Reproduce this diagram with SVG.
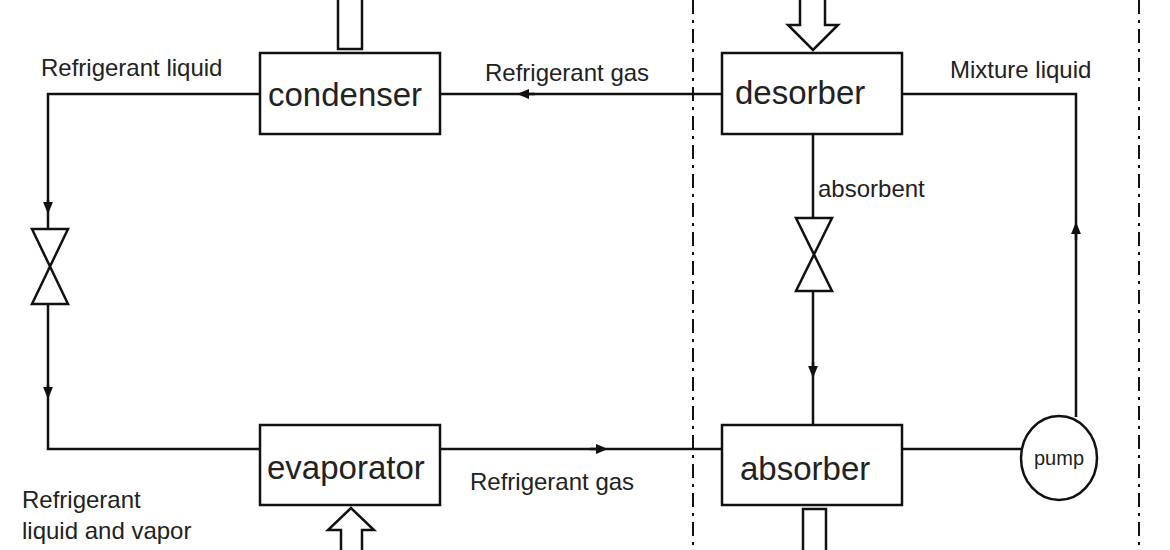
<svg xmlns="http://www.w3.org/2000/svg" width="1170" height="550" viewBox="0 0 1170 550">
<style>
.b{fill:#fff;stroke:#111;stroke-width:2.5}
.l{fill:none;stroke:#111;stroke-width:2.5}
.d{fill:none;stroke:#111;stroke-width:2;stroke-dasharray:14 6 3 6}
text{font-family:"Liberation Sans",Arial,sans-serif;fill:#222}
.big{font-size:33px}
.s{font-size:24px}
.p{font-size:20px}
</style>
<defs>
<marker id="a" viewBox="0 0 10 10" refX="5" refY="5" markerWidth="5" markerHeight="5" orient="auto"><path d="M0,1 L10,5 L0,9 Z" fill="#111"/></marker>
</defs>
<g id="boundaries">
<line class="d" x1="693" y1="0" x2="693" y2="550"/>
<line class="d" x1="1139" y1="0" x2="1139" y2="550"/>
</g>
<g id="connectors">
<path class="l" d="M260,94 H48 V229"/>
<path class="l" d="M48,200 V208" marker-end="url(#a)"/>
<path class="l" d="M48,304 V449 H260"/>
<path class="l" d="M48,385 V393" marker-end="url(#a)"/>
<path class="l" d="M440,449 H722"/>
<path class="l" d="M590,449 H602" marker-end="url(#a)"/>
<path class="l" d="M722,94 H440"/>
<path class="l" d="M535,94 H523" marker-end="url(#a)"/>
<path class="l" d="M902,94 H1076 V417"/>
<path class="l" d="M1076,240 V228" marker-end="url(#a)"/>
<path class="l" d="M813,134 V218 M813,291 V425"/>
<path class="l" d="M813,362 V372" marker-end="url(#a)"/>
<path class="l" d="M902,449 H1021"/>
</g>
<g id="condenser">
<rect class="b" x="260" y="53" width="180" height="81"/>
<text class="big" x="268" y="106">condenser</text>
<rect class="b" x="338" y="-5" width="24" height="54"/>
</g>
<g id="evaporator">
<rect class="b" x="260" y="425" width="180" height="80"/>
<text class="big" x="267" y="479">evaporator</text>
<path class="b" d="M341,555 V530 H328 L351,508 L374,530 H362 V555"/>
</g>
<g id="desorber">
<rect class="b" x="722" y="53" width="180" height="81"/>
<text class="big" x="735" y="104">desorber</text>
<path class="b" d="M800,-5 V25 H788 L813,50 L838,25 H825 V-5"/>
</g>
<g id="absorber">
<rect class="b" x="722" y="425" width="180" height="80"/>
<text class="big" x="740" y="480">absorber</text>
<rect class="b" x="803" y="509" width="23" height="46"/>
</g>
<g id="pump">
<ellipse class="b" cx="1059" cy="458" rx="38" ry="42"/>
<text class="p" x="1059" y="465" text-anchor="middle">pump</text>
</g>
<g id="valve1">
<path class="b" d="M32,229 H68 L32,304 H68 Z"/>
</g>
<g id="valve2">
<path class="b" d="M796,218 H832 L796,291 H832 Z"/>
</g>
<g id="labels">
<text class="s" x="41" y="76">Refrigerant liquid</text>
<text class="s" x="485" y="81">Refrigerant gas</text>
<text class="s" x="950" y="78">Mixture liquid</text>
<text class="s" x="818" y="197">absorbent</text>
<text class="s" x="470" y="490">Refrigerant gas</text>
<text class="s" x="22" y="508">Refrigerant</text>
<text class="s" x="22" y="539">liquid and vapor</text>
</g>
</svg>
